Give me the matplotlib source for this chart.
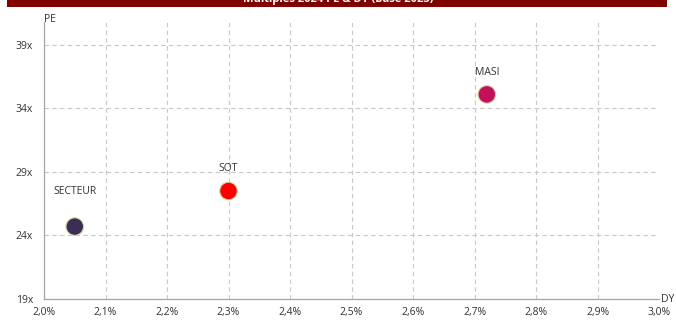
import matplotlib.pyplot as plt
from matplotlib.patches import Rectangle
from matplotlib.ticker import FuncFormatter, MultipleLocator

# PE / DY values per entity
names = ['SECTEUR', 'SOT', 'MASI']
dy = [2.05, 2.30, 2.72]
pe = [24.7, 27.5, 35.1]
colors = ['#3b2d55', '#ff0000', '#c4105a']
label_offsets = [25, 16, 16]
pe_ticks = [19, 24, 29, 34, 39]

plt.rcParams['font.family'] = ['Open Sans', 'DejaVu Sans']

fig = plt.figure(figsize=(6.76, 3.23), dpi=100)
ax = fig.add_axes([0.0651, 0.0743, 0.9098, 0.8577])

# dark red header band (title text mostly out of frame)
fig.patches.append(Rectangle((0.0104, 0.978), 0.977, 0.03, transform=fig.transFigure,
                             facecolor='#800000', edgecolor='none'))
fig.text(0.5, 1.003, 'Multiples 2024 PE & DY (base 2023)', color='white', fontsize=8,
         ha='center', va='center', fontweight='bold')

ax.scatter(dy, pe, s=160, c=colors, edgecolors='#d6d2a6', linewidths=0.8, zorder=3)
for n, x, y, off in zip(names, dy, pe, label_offsets):
    ax.annotate(n, (x, y), xytext=(0, off), textcoords='offset points', ha='center',
                va='center', fontsize=7.5, color='#333333')

ax.set_xlim(2.0, 3.0)
ax.set_ylim(19, 40.8)
ax.xaxis.set_major_locator(MultipleLocator(0.1))
ax.set_yticks(pe_ticks)
ax.xaxis.set_major_formatter(FuncFormatter(lambda v, p: f'{v:.1f}%'.replace('.', ',')))
ax.yaxis.set_major_formatter(FuncFormatter(lambda v, p: f'{v:.0f}x'))
ax.tick_params(length=0, labelsize=7.5, colors='#333333')
ax.tick_params(axis='x', pad=6)
ax.tick_params(axis='y', pad=8)

ax.grid(True, color='#c8c8c8', linestyle=(0, (4, 3)), linewidth=0.8)
ax.set_axisbelow(True)
for s in ['top', 'right']:
    ax.spines[s].set_visible(False)
for s in ['left', 'bottom']:
    ax.spines[s].set_color('#a6a6a6')
    ax.spines[s].set_linewidth(0.9)

ax.text(0.0, 0.99, 'PE', transform=ax.transAxes, fontsize=7.5, color='#333333',
        ha='left', va='bottom')
ax.text(1.003, 0.0, 'DY', transform=ax.transAxes, fontsize=7.5, color='#333333',
        ha='left', va='center')

fig.savefig('out.png', dpi=100)
